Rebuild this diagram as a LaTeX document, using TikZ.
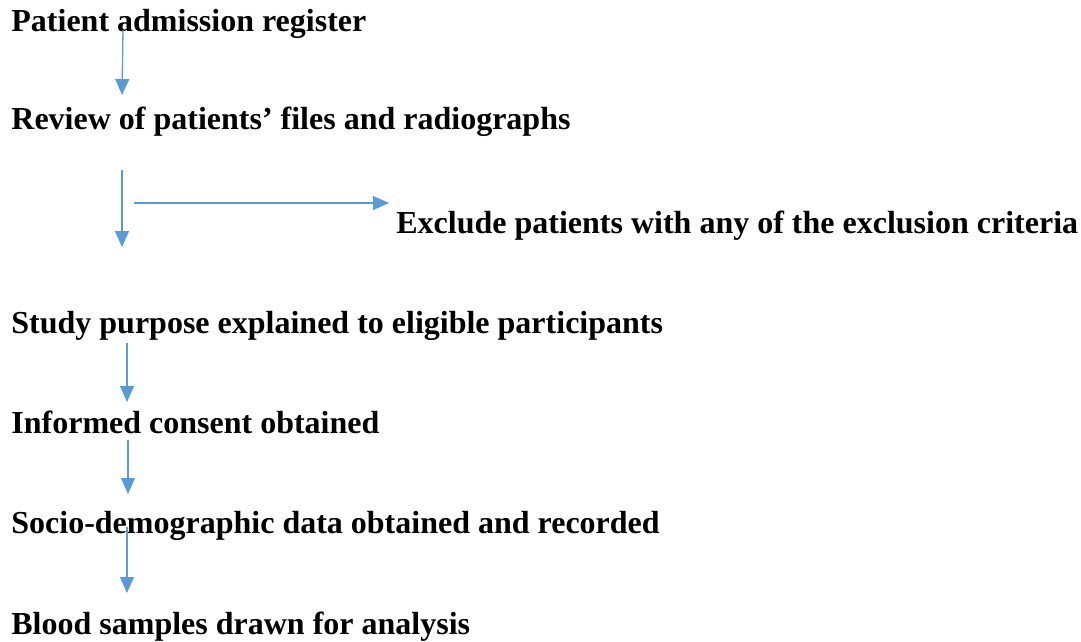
\documentclass[tikz,border=0pt]{standalone}
\usepackage{fontspec}
\setmainfont{Liberation Serif}
\usepackage{tikz}
\usetikzlibrary{arrows.meta,calc}
\definecolor{flow}{HTML}{5B9BD5}
\tikzset{
  >={Triangle[width=7pt,length=8pt]},
  stage/.style={anchor=base west,inner sep=0pt,font=\fontsize{16}{19}\selectfont\bfseries},
  arr/.style={->,draw=flow,fill=flow,line width=0.65pt},
}
\begin{document}
\begin{tikzpicture}[x=0.5pt,y=-0.5pt]
\useasboundingbox (0,0) rectangle (1081,642);
\node[stage] (reg) at (11,32) {Patient admission register};
\node[stage] (rev) at (11,129) {Review of patients’ files and radiographs};
\node[stage] (excl) at (396,233) {Exclude patients with any of the exclusion criteria};
\node[stage] (study) at (11,333) {Study purpose explained to eligible participants};
\node[stage] (inf) at (11,433) {Informed consent obtained};
\node[stage] (soc) at (11,533) {Socio-demographic data obtained and recorded};
\node[stage] (blood) at (11,634) {Blood samples drawn for analysis};
% offsets in px from each base line
\foreach \u/\du/\v/\dv in {reg/{112,-2}/rev/{111,-34},rev/{111,41}/study/{111,-86},rev/{123,74}/excl/{-7,-30},study/{116,10}/inf/{116,-31},inf/{117,7}/soc/{117,-39},soc/{116,-6}/blood/{116,-41}}
  \draw[arr] ($(\u.base west)+(\du)$) -- ($(\v.base west)+(\dv)$);
\end{tikzpicture}
\end{document}
